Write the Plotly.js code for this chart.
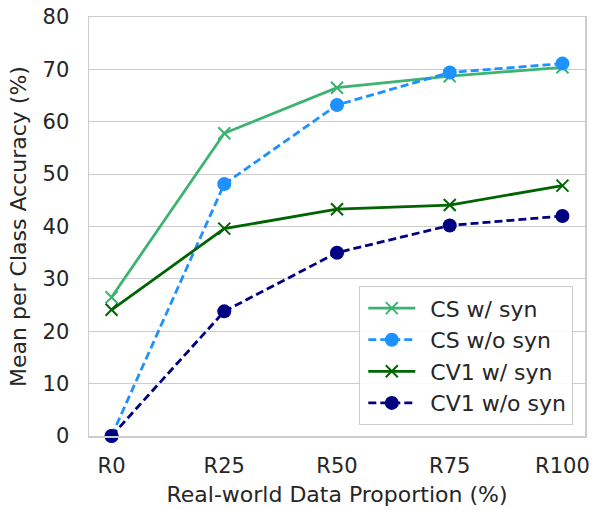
<!DOCTYPE html>
<html>
<head>
<meta charset="utf-8">
<script src="https://cdn.plot.ly/plotly-3.0.1.min.js"></script>
<style>html,body{margin:0;padding:0;background:#fff;}</style>
</head>
<body>
<div id="chart" style="width:593px;height:510px;"></div>
<script>
const categories = ["R0", "R25", "R50", "R75", "R100"];
const csWithSyn = [26.5, 57.8, 66.5, 68.7, 70.4];
const csWithoutSyn = [0, 48.1, 63.2, 69.4, 71.1];
const cv1WithSyn = [24.1, 39.6, 43.3, 44.1, 47.8];
const cv1WithoutSyn = [0, 23.8, 35.0, 40.2, 42.0];
const seriesNames = ["CS w/ syn", "CS w/o syn", "CV1 w/ syn", "CV1 w/o syn"];

const xIdx = categories.map((c, i) => i);
const txt = '#262626';
const fam = "'DejaVu Sans', sans-serif";
const tickFont = {family: fam, size: 21, color: txt};
const titleFont = {family: fam, size: 22, color: txt};

function crossTrace(name, y, color, g) {
  return {x: xIdx, y: y, name: name, type: 'scatter', mode: 'lines+markers',
    legendgroup: g,
    line: {color: color, width: 2.8},
    marker: {symbol: 'x-thin-open', size: 12, color: color, line: {color: color, width: 2}},
    cliponaxis: false};
}
function dotTrace(name, y, color, g) {
  return {x: xIdx, y: y, name: name, type: 'scatter', mode: 'lines+markers',
    legendgroup: g,
    line: {color: color, width: 2.8, dash: '8px,4px'},
    marker: {symbol: 'circle', size: 14, color: color},
    cliponaxis: false};
}

const data = [
  crossTrace(seriesNames[0], csWithSyn, '#3CB371', 'a'),
  dotTrace(seriesNames[1], csWithoutSyn, '#1E90FF', 'b'),
  crossTrace(seriesNames[2], cv1WithSyn, '#006400', 'c'),
  dotTrace(seriesNames[3], cv1WithoutSyn, '#000080', 'd')
];

const layout = {
  width: 593, height: 510,
  margin: {l: 89, r: 8, t: 17, b: 74},
  paper_bgcolor: '#fff', plot_bgcolor: '#fff',
  font: tickFont,
  showlegend: true,
  legend: {x: 0.976, xanchor: 'right', y: 0.026, yanchor: 'bottom',
    bgcolor: 'rgba(255,255,255,0.9)', bordercolor: '#cccccc', borderwidth: 1.2,
    font: {family: fam, size: 22, color: txt}, itemwidth: 60,
    traceorder: 'grouped', tracegroupgap: 0},
  xaxis: {
    range: [-0.2, 4.2], tickmode: 'array', tickvals: xIdx, ticktext: categories,
    showgrid: false, zeroline: false,
    showline: true, mirror: true, linecolor: '#cccccc', linewidth: 1.5,
    ticks: '', tickfont: tickFont, ticklabelstandoff: 10,
    title: {text: 'Real-world Data Proportion (%)', font: titleFont, standoff: 10}
  },
  yaxis: {
    range: [0, 80], tickmode: 'array', tickvals: [0,10,20,30,40,50,60,70,80],
    showgrid: true, gridcolor: '#cccccc', gridwidth: 1.2, zeroline: false,
    showline: true, mirror: true, linecolor: '#cccccc', linewidth: 1.5,
    ticks: '', tickfont: tickFont, ticklabelstandoff: 14,
    title: {text: 'Mean per Class Accuracy (%)', font: titleFont, standoff: 10}
  }
};

Plotly.newPlot('chart', data, layout, {displayModeBar: false, staticPlot: true}).then(gd => {
  // widen the legend line samples to match the reference's longer handles
  gd.querySelectorAll('.legend .traces').forEach(tr => {
    tr.querySelectorAll('.legendlines path').forEach(p => p.setAttribute('d', 'M8,0h47'));
    tr.querySelectorAll('.legendpoints path').forEach(p => {
      const t = p.getAttribute('transform') || '';
      p.setAttribute('transform', t.replace(/translate\(([-\d.]+),/, 'translate(31.5,'));
    });
  });
});
</script>
</body>
</html>
